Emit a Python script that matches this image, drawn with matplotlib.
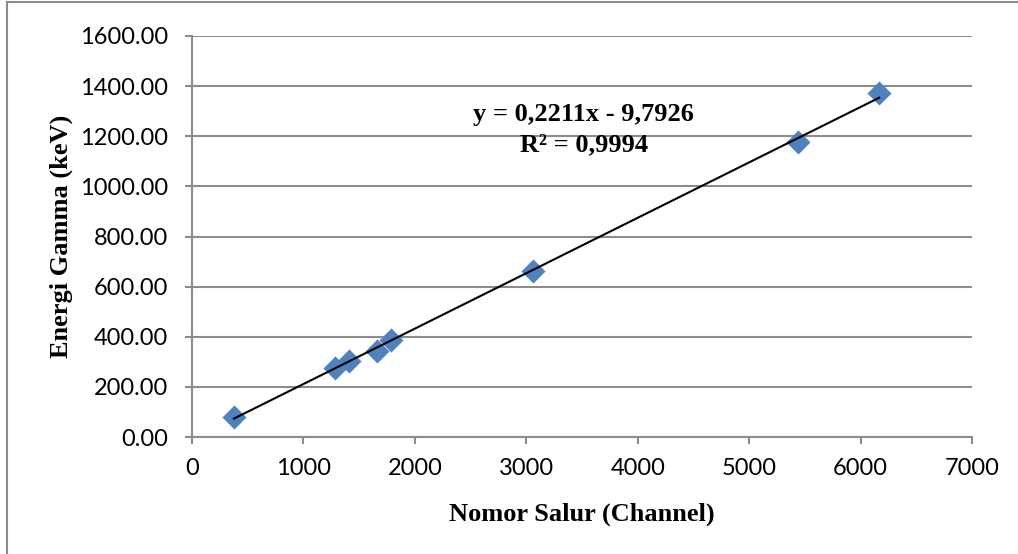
import matplotlib
matplotlib.use("Agg")
import matplotlib.pyplot as plt
from matplotlib.lines import Line2D
import numpy as np

# Data
channel = [377, 1284, 1409, 1661, 1786, 3064, 5437, 6167]
energy = [81, 276, 303, 344, 388, 662, 1176, 1372]

# Trendline coefficients shown on the chart
slope = 0.2211
intercept = -9.7926
eq_text = "y = 0,2211x - 9,7926"
r2_text = "R² = 0,9994"

x_ticks = [0, 1000, 2000, 3000, 4000, 5000, 6000, 7000]
y_ticks = [0, 200, 400, 600, 800, 1000, 1200, 1400, 1600]

xlabel = "Nomor Salur (Channel)"
ylabel = "Energi Gamma (keV)"

grid_c = "#8c8c8c"
marker_c = "#4f81bd"

fig = plt.figure(figsize=(10.18, 5.54), dpi=100)
ax = fig.add_axes([192 / 1018, 1 - 437 / 554, (972 - 192) / 1018, (437 - 36) / 554])

ax.scatter(channel, energy, marker="D", s=150, color=marker_c, zorder=3, linewidths=0)
xs = np.array([min(channel), max(channel)])
ax.plot(xs, slope * xs + intercept, color="black", lw=1.5, zorder=4)

ax.set_xlim(0, 7000)
ax.set_ylim(0, 1600)
ax.set_xticks(x_ticks)
ax.set_yticks(y_ticks)
ax.set_xticklabels([str(v) for v in x_ticks])
ax.set_yticklabels([f"{v:.2f}" for v in y_ticks])

ax.grid(axis="y", color=grid_c, lw=1.5)
ax.set_axisbelow(True)
for s in ["top", "right"]:
    ax.spines[s].set_visible(False)
for s in ["left", "bottom"]:
    ax.spines[s].set_color(grid_c)
    ax.spines[s].set_linewidth(1.5)

ax.tick_params(axis="both", colors=grid_c, length=5, width=1.5, labelcolor="black",
               labelsize=17)
ax.tick_params(axis="y", pad=12)
ax.tick_params(axis="x", pad=10)
for lab in ax.get_xticklabels() + ax.get_yticklabels():
    lab.set_family("Lato")

serif = {"family": "Liberation Serif", "weight": "bold", "size": 19}
ax.set_xlabel(xlabel, fontdict=serif, labelpad=17)
ax.set_ylabel(ylabel, fontdict=serif, labelpad=5)

ax.text(3515, 1285, eq_text, fontdict=serif, ha="center", va="center")
ax.text(3515, 1165, r2_text, fontdict=serif, ha="center", va="center")

# outer chart border (left and top visible)
fig.add_artist(Line2D([7 / 1018, 7 / 1018], [0, 1 - 2 / 554], color=grid_c, lw=1.5,
                      transform=fig.transFigure))
fig.add_artist(Line2D([7 / 1018, 1], [1 - 2 / 554, 1 - 2 / 554], color=grid_c, lw=1.5,
                      transform=fig.transFigure))

fig.savefig("out.png", dpi=100, facecolor="white")
